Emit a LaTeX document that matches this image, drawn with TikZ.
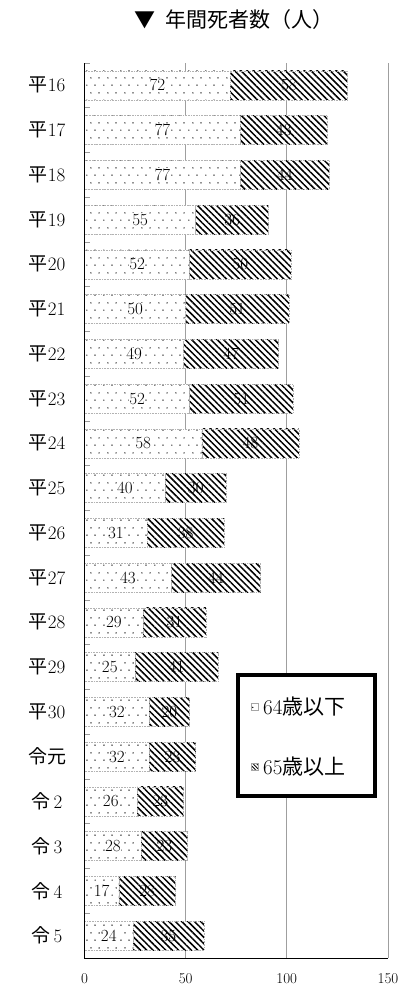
\documentclass[tikz,border=0pt]{standalone}
\usepackage{fontspec}
\newfontfamily\cjk{Noto Sans CJK JP}
\usetikzlibrary{patterns.meta}
\pgfdeclarepattern{
  name=sdots, type=uncolored,
  bottom left={\pgfpoint{0pt}{0pt}},
  top right={\pgfpoint{17pt}{15pt}},
  tile size={\pgfpoint{17pt}{15pt}},
  code={
    \pgfpathcircle{\pgfpoint{2pt}{3pt}}{0.75pt}
    \pgfpathcircle{\pgfpoint{10.5pt}{3pt}}{0.75pt}
    \pgfpathcircle{\pgfpoint{6.25pt}{10.5pt}}{0.75pt}
    \pgfpathcircle{\pgfpoint{14.75pt}{10.5pt}}{0.75pt}
    \pgfusepath{fill}
  }
}
\newcommand\jp[1]{{\cjk #1}}
\tikzset{
  grid/.style={draw=gray!75, line width=0.9pt},
  axis/.style={draw=black, line width=1pt},
  ytick/.style={draw=gray!80, line width=0.8pt},
  bara/.style={draw=gray!60, densely dotted, line width=0.6pt},
  barapat/.style={pattern=sdots, pattern color=black},
  barb/.style={pattern={Lines[angle=-45,distance=4.5pt,line width=1.5pt]}, pattern color=black},
  barbframe/.style={draw=gray!60, densely dotted, line width=0.6pt},
  vallab/.style={font=\fontsize{17}{17}\selectfont, inner sep=0pt},
  catlab/.style={font=\fontsize{19}{19}\selectfont, inner sep=0pt},
  ticklab/.style={font=\fontsize{15}{15}\selectfont, inner sep=0pt},
  leglab/.style={font=\fontsize{21}{21}\selectfont, inner sep=0pt, anchor=west},
}
\begin{document}
\begin{tikzpicture}[x=1pt,y=-1pt]
\useasboundingbox (0,0) rectangle (409,988);
% title
\node[font=\fontsize{21}{21}\selectfont\cjk, inner sep=0pt] (title) at (234,20) {▼\hspace{0.5em}年間死者数（人）};
% gridlines
\foreach \v in {50,100,150}{
  \pgfmathsetmacro\gx{84.5+2.023*\v}
  \draw[grid] (\gx,63) -- (\gx,958);
}
% y ticks
\foreach \k in {0,...,19}{
  \pgfmathsetmacro\ty{63+44.75*\k}
  \draw[ytick] (84.5,\ty) -- (90,\ty);
}
% bars
\foreach \lab/\a/\b [count=\i from 0] in {
  \jp{平}16/72/58, \jp{平}17/77/43, \jp{平}18/77/44, \jp{平}19/55/36,
  \jp{平}20/52/50, \jp{平}21/50/51, \jp{平}22/49/47, \jp{平}23/52/51,
  \jp{平}24/58/48, \jp{平}25/40/30, \jp{平}26/31/38, \jp{平}27/43/44,
  \jp{平}28/29/31, \jp{平}29/25/41, \jp{平}30/32/20, \jp{令元}/32/23,
  \jp{令}\,2/26/23, \jp{令}\,3/28/23, \jp{令}\,4/17/28, \jp{令}\,5/24/35}{
  \pgfmathsetmacro\yc{63+44.75*(\i+0.5)}
  \pgfmathsetmacro\yt{\yc-14.5}
  \pgfmathsetmacro\yb{\yc+14.5}
  \pgfmathsetmacro\xa{84.5+2.023*\a}
  \pgfmathsetmacro\xb{84.5+2.023*(\a+\b)}
  \pgfmathsetmacro\ma{84.5+2.023*\a/2}
  \pgfmathsetmacro\mb{84.5+2.023*(\a+\b/2)}
  \fill[white] (84.5,\yt) rectangle (\xb,\yb);
  \fill[barapat] (84.5,\yt) rectangle (\xa,\yb);
  \draw[bara] (84.5,\yt) rectangle (\xa,\yb);
  \fill[barb] (\xa,\yt) rectangle (\xb,\yb);
  \draw[barbframe] (\xa,\yt) rectangle (\xb,\yb);
  \node[vallab, fill=white, inner sep=0.5pt] (va\i) at (\ma,\yc) {\a};
  \node[vallab] (vb\i) at (\mb,\yc) {\b};
  \node[catlab] (cat\i) at (47,\yc) {\lab};
}
% axes
\draw[axis] (84.5,63) -- (84.5,958) -- (388,958);
% x tick labels
\foreach \v in {0,50,100,150}{
  \pgfmathsetmacro\gx{84.5+2.023*\v}
  \node[ticklab] (xt\v) at (\gx,979) {\v};
}
% legend
\draw[line width=3.5pt, fill=white] (238,675) rectangle (375,796);
\fill[white] (251,703) rectangle (258,710);
\fill[pattern=sdots] (251,703) rectangle (258,710);
\draw[gray!70, line width=0.5pt] (251,703) rectangle (258,710);
\fill[pattern={Lines[angle=-45,distance=2.5pt,line width=0.8pt]}] (251,763) rectangle (258,770);
\draw[gray!70, line width=0.5pt] (251,763) rectangle (258,770);
\node[leglab] (leg1) at (263,707) {64\jp{歳以下}};
\node[leglab] (leg2) at (263,767) {65\jp{歳以上}};
\end{tikzpicture}
\end{document}
